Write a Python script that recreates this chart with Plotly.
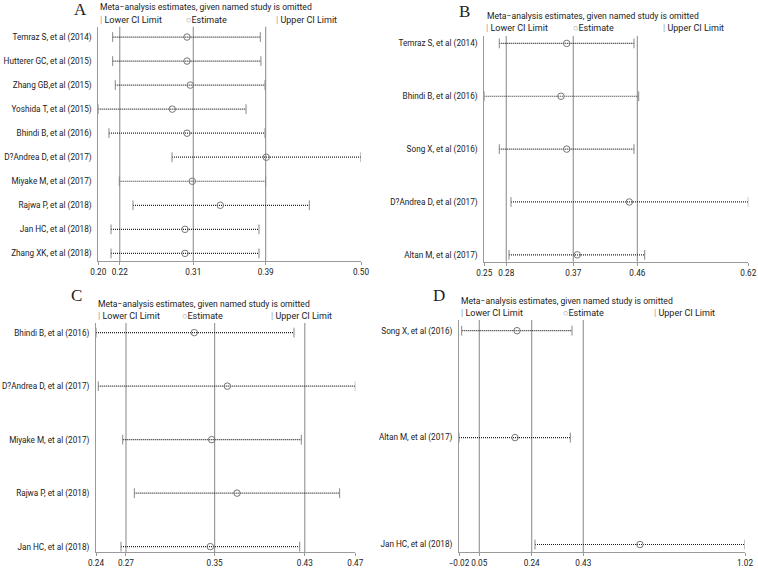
import plotly.graph_objects as go

# ---------------- data ----------------
studies_A = ["Temraz S, et al (2014)", "Hutterer GC, et al (2015)", "Zhang GB,et al (2015)",
             "Yoshida T, et al (2015)", "Bhindi B, et al (2016)", "D?Andrea D, et al (2017)",
             "Miyake M, et al (2017)", "Rajwa P, et al (2018)", "Jan HC, et al (2018)",
             "Zhang XK, et al (2018)"]
lower_A = [0.2164, 0.2164, 0.2194, 0.2000, 0.2122, 0.2842, 0.2240, 0.2396, 0.2145, 0.2145]
est_A = [0.3013, 0.3013, 0.3051, 0.2845, 0.3013, 0.3918, 0.3073, 0.3393, 0.2990, 0.2990]
upper_A = [0.3850, 0.3857, 0.3904, 0.3687, 0.3904, 0.5000, 0.3911, 0.4410, 0.3835, 0.3835]
overall_A = [0.2245, 0.3085, 0.3911]

studies_B = ["Temraz S, et al (2014)", "Bhindi B, et al (2016)", "Song X, et al (2016)",
             "D?Andrea D, et al (2017)", "Altan M, et al (2017)"]
lower_B = [0.2710, 0.2500, 0.2710, 0.2874, 0.2846]
est_B = [0.3655, 0.3575, 0.3655, 0.4532, 0.3803]
upper_B = [0.4598, 0.4664, 0.4598, 0.6200, 0.4748]
overall_B = [0.2808, 0.3747, 0.4645]

studies_C = ["Bhindi B, et al (2016)", "D?Andrea D, et al (2017)", "Miyake M, et al (2017)",
             "Rajwa P, et al (2018)", "Jan HC, et al (2018)"]
lower_C = [0.2400, 0.2420, 0.2637, 0.2740, 0.2622]
est_C = [0.3272, 0.3565, 0.3426, 0.3651, 0.3414]
upper_C = [0.4156, 0.4700, 0.4221, 0.4561, 0.4207]
overall_C = [0.2666, 0.3452, 0.4252]

studies_D = ["Song X, et al (2016)", "Altan M, et al (2017)", "Jan HC, et al (2018)"]
lower_D = [-0.0102, -0.0200, 0.2564]
est_D = [0.1909, 0.1836, 0.6380]
upper_D = [0.3909, 0.3849, 1.0200]
overall_D = [0.0539, 0.2443, 0.4320]

panel_letters = ["A", "B", "C", "D"]
title_text = "Meta\u2212analysis estimates, given named study is omitted"

# ---------------- layout helpers ----------------
W, H = 758, 568
FONT = "Roboto, Arial, sans-serif"
GRAY = "#9a9a9a"
FS_LAB = 8.2     # study labels and tick labels
FS_TITLE = 8.6   # panel header
FS_LEG = 9.0     # legend keys

panels = [
    dict(studies=studies_A, lo=lower_A, est=est_A, hi=upper_A, ov=overall_A,
         px=(98.3, 361.0), py=(26.7, 261.3), pad=(-0.43, 0.33),
         letter=(72, 10), title=(99, 7.5), leg=(99, 185, 275, 20.5)),
    dict(studies=studies_B, lo=lower_B, est=est_B, hi=upper_B, ov=overall_B,
         px=(484.3, 748.3), py=(36.0, 261.7), pad=(-0.14, 0.13),
         letter=(457, 12), title=(485.5, 15.5), leg=(485, 572, 662, 27.5)),
    dict(studies=studies_C, lo=lower_C, est=est_C, hi=upper_C, ov=overall_C,
         px=(96.0, 355.3), py=(323.0, 552.0), pad=(-0.18, 0.10),
         letter=(69, 295), title=(96.5, 304), leg=(96.5, 181, 269.5, 316)),
    dict(studies=studies_D, lo=lower_D, est=est_D, hi=upper_D, ov=overall_D,
         px=(459.0, 745.0), py=(320.0, 552.0), pad=(-0.10, 0.07),
         letter=(431, 295), title=(460, 301), leg=(460, 562, 653, 313)),
]


def fmt(v):
    return ("%.2f" % v).replace("-", "\u2212")


fig = go.Figure()
layout = dict(width=W, height=H, margin=dict(l=0, r=0, t=0, b=0, autoexpand=False),
              paper_bgcolor="white", plot_bgcolor="white", showlegend=False,
              font=dict(family=FONT, size=FS_LAB, color="#222"))
annotations = []
shapes = []

for k, p in enumerate(panels, start=1):
    xa = "x" if k == 1 else "x%d" % k
    ya = "y" if k == 1 else "y%d" % k
    xkey = "xaxis" if k == 1 else "xaxis%d" % k
    ykey = "yaxis" if k == 1 else "yaxis%d" % k
    n = len(p["studies"])
    rows = list(range(n))
    xmin, xmax = min(p["lo"]), max(p["hi"])
    tickv = [xmin] + list(p["ov"]) + [xmax]

    layout[xkey] = dict(domain=[p["px"][0] / W, p["px"][1] / W], anchor=ya, automargin=False,
                        range=[xmin, xmax], tickvals=tickv, ticktext=[fmt(v) for v in tickv],
                        tickangle=0, showgrid=False, zeroline=False, showline=True,
                        linecolor=GRAY, linewidth=1, ticks="outside", ticklen=3,
                        tickcolor=GRAY, tickfont=dict(size=FS_LAB, color="#222"))
    layout[ykey] = dict(domain=[1 - p["py"][1] / H, 1 - p["py"][0] / H], anchor=xa,
                        automargin=False, range=[n - 1 + p["pad"][1], p["pad"][0]],
                        tickvals=rows, ticktext=p["studies"], showgrid=False, zeroline=False,
                        showline=True, linecolor=GRAY, linewidth=1, ticks="",
                        ticklabelstandoff=4, tickfont=dict(size=FS_LAB, color="#222"))

    # reference lines at overall lower / estimate / upper
    for v in p["ov"]:
        shapes.append(dict(type="line", xref=xa, yref=ya + " domain", x0=v, x1=v, y0=0, y1=1,
                           line=dict(color=GRAY, width=1.2), layer="below"))

    # CI lines (dotted)
    cx, cy = [], []
    for i in rows:
        cx += [p["lo"][i], p["hi"][i], None]
        cy += [i, i, None]
    fig.add_trace(go.Scatter(x=cx, y=cy, mode="lines", xaxis=xa, yaxis=ya,
                             line=dict(color="#222", width=1.2, dash="1px,1px"),
                             hoverinfo="skip"))
    # caps
    fig.add_trace(go.Scatter(x=p["lo"] + p["hi"], y=rows + rows, mode="markers",
                             xaxis=xa, yaxis=ya,
                             marker=dict(symbol="line-ns", size=7,
                                         line=dict(color="#888", width=1))))
    # estimates
    fig.add_trace(go.Scatter(x=p["est"], y=rows, mode="markers", xaxis=xa, yaxis=ya,
                             marker=dict(symbol="circle-open", size=6.5, color="#777",
                                         line=dict(width=1))))

    # panel letter, title, legend
    annotations.append(dict(xref="paper", yref="paper", x=p["letter"][0] / W,
                            y=1 - p["letter"][1] / H, text=panel_letters[k - 1],
                            showarrow=False, xanchor="left", yanchor="middle",
                            font=dict(family="Liberation Serif, serif", size=17, color="#222")))
    annotations.append(dict(xref="paper", yref="paper", x=p["title"][0] / W,
                            y=1 - p["title"][1] / H, text=title_text, showarrow=False,
                            xanchor="left", yanchor="middle", borderpad=0,
                            font=dict(size=FS_TITLE, color="#222")))
    lx1, lx2, lx3, ly = p["leg"]
    leg_items = [(lx1, "<span style='color:#999'>|</span> Lower CI Limit"),
                 (lx2, "<span style='color:#999'>\u25cb</span>Estimate"),
                 (lx3, "<span style='color:#999'>|</span> Upper CI Limit")]
    for lx, t in leg_items:
        annotations.append(dict(xref="paper", yref="paper", x=lx / W, y=1 - ly / H, text=t,
                                showarrow=False, xanchor="left", yanchor="middle", borderpad=0,
                                font=dict(size=FS_LEG, color="#222")))

layout["annotations"] = annotations
layout["shapes"] = shapes
fig.update_layout(**layout)
# remove the browser's default 8px body margin so the figure fills the window exactly
fig.write_html("out.html", config={"displayModeBar": False},
               post_script="document.body.style.margin='0';")
